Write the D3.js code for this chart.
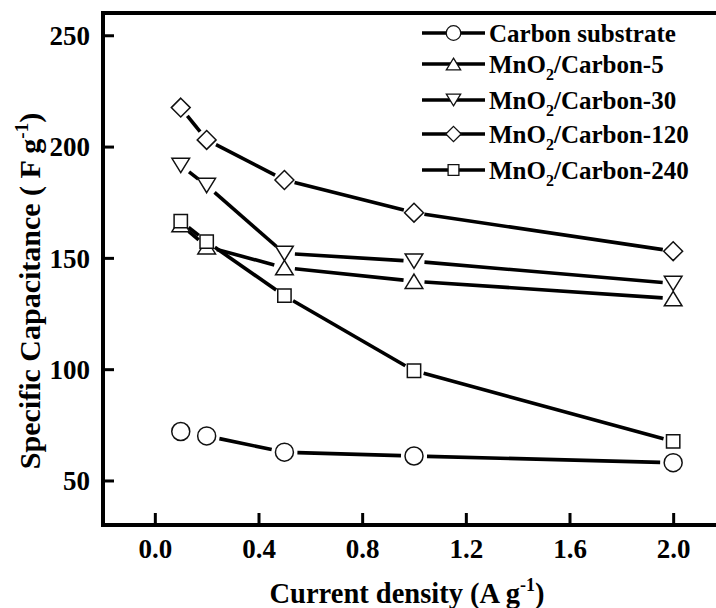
<!DOCTYPE html>
<html>
<head>
<meta charset="utf-8">
<script src="https://cdn.jsdelivr.net/npm/d3@7"></script>
<style>
  html, body { margin: 0; padding: 0; background: #fff; }
  svg { display: block; }
  text { font-family: "Liberation Serif", "Times New Roman", serif; font-weight: bold; fill: #000; }
</style>
</head>
<body>
<svg id="chart" width="716" height="608"></svg>
<script>
// Current density (A g^-1)
const currentDensity = [0.1, 0.2, 0.5, 1.0, 2.0];

// Specific capacitance (F g^-1) for each electrode
const carbonSubstrate = [72, 70, 62.7, 61, 58];
const mnoCarbon5      = [165, 155, 145.6, 139.5, 131.7];
const mnoCarbon30     = [191.5, 182.5, 152, 148.5, 138.5];
const mnoCarbon120    = [217.5, 203, 185, 170.3, 153];
const mnoCarbon240    = [166.5, 157.3, 133, 99.3, 67.6];

const seriesNames = ["Carbon substrate", "MnO2/Carbon-5", "MnO2/Carbon-30", "MnO2/Carbon-120", "MnO2/Carbon-240"];
const seriesSymbols = ["circle", "triUp", "triDown", "diamond", "square"];

const xTicks = [0.0, 0.4, 0.8, 1.2, 1.6, 2.0];
const yTicks = [50, 100, 150, 200, 250];

const series = [carbonSubstrate, mnoCarbon5, mnoCarbon30, mnoCarbon120, mnoCarbon240].map((vals, i) => ({
  name: seriesNames[i],
  symbol: seriesSymbols[i],
  points: vals.map((v, j) => ({ x: currentDensity[j], y: v }))
}));

const svg = d3.select("#chart");
const frame = { left: 103, top: 13, bottom: 525, right: 725 };

const x = d3.scaleLinear().domain([-0.2, 2.2]).range([frame.left, frame.right]);
const y = d3.scaleLinear().domain([30, 260]).range([frame.bottom, frame.top]);

// marker path generators, centred on 0,0
function symbolPath(kind, s) {
  switch (kind) {
    case "circle": {
      const r = s;
      return `M${-r},0A${r},${r} 0 1,0 ${r},0A${r},${r} 0 1,0 ${-r},0Z`;
    }
    case "triUp": {
      const w = s * 0.98, h = s * 0.8;
      return `M0,${-h}L${w},${h}L${-w},${h}Z`;
    }
    case "triDown": {
      const w = s * 0.98, h = s * 0.8;
      return `M0,${h}L${w},${-h}L${-w},${-h}Z`;
    }
    case "diamond": {
      const r = s * 1.05;
      return `M0,${-r}L${r},0L0,${r}L${-r},0Z`;
    }
    case "square": {
      const h = s * 0.74;
      return `M${-h},${-h}H${h}V${h}H${-h}Z`;
    }
  }
}

const gapFor = { circle: 13, triUp: 10.5, triDown: 10.5, diamond: 10.5, square: 10 };

// connecting lines, trimmed short of each marker
const lineLayer = svg.append("g");
series.forEach(s => {
  const g = gapFor[s.symbol];
  for (let i = 0; i < s.points.length - 1; i++) {
    const x1 = x(s.points[i].x), y1 = y(s.points[i].y);
    const x2 = x(s.points[i + 1].x), y2 = y(s.points[i + 1].y);
    const len = Math.hypot(x2 - x1, y2 - y1);
    if (len <= 2 * g + 1) continue;
    const ux = (x2 - x1) / len, uy = (y2 - y1) / len;
    lineLayer.append("line")
      .attr("x1", x1 + ux * g).attr("y1", y1 + uy * g)
      .attr("x2", x2 - ux * g).attr("y2", y2 - uy * g)
      .attr("stroke", "#000").attr("stroke-width", 3.6);
  }
});

// markers
const markerLayer = svg.append("g");
series.forEach(s => {
  markerLayer.selectAll(null).data(s.points).enter().append("path")
    .attr("transform", d => `translate(${x(d.x)},${y(d.y)})`)
    .attr("d", symbolPath(s.symbol, 9))
    .attr("fill", "#fff").attr("stroke", "#111").attr("stroke-width", 1.5);
});

// axes frame
const axisLayer = svg.append("g");
axisLayer.append("path")
  .attr("d", `M${frame.right},${frame.top}H${frame.left}V${frame.bottom}H${frame.right}`)
  .attr("fill", "none").attr("stroke", "#000").attr("stroke-width", 4);

const xAxis = d3.axisBottom(x).tickValues(xTicks).tickFormat(d3.format(".1f")).tickSizeInner(-12).tickSizeOuter(0).tickPadding(14);
const gx = axisLayer.append("g").attr("transform", `translate(0,${frame.bottom})`).call(xAxis);
gx.select(".domain").remove();
gx.selectAll(".tick line").attr("stroke", "#000").attr("stroke-width", 3);
gx.selectAll(".tick text").attr("font-size", 27).attr("font-family", "Liberation Serif").attr("font-weight", "bold").attr("fill", "#000").attr("dy", "0.71em");

const yAxis = d3.axisLeft(y).tickValues(yTicks).tickFormat(d3.format("d")).tickSizeInner(-11).tickSizeOuter(0).tickPadding(13);
const gy = axisLayer.append("g").attr("transform", `translate(${frame.left},0)`).call(yAxis);
gy.select(".domain").remove();
gy.selectAll(".tick line").attr("stroke", "#000").attr("stroke-width", 3);
gy.selectAll(".tick text").attr("font-size", 27).attr("font-family", "Liberation Serif").attr("font-weight", "bold").attr("fill", "#000").attr("dy", "0.34em");

// axis titles
const xt = svg.append("text").attr("x", 407).attr("y", 603).attr("text-anchor", "middle").attr("font-size", 28.5);
xt.append("tspan").text("Current density (A g");
xt.append("tspan").attr("font-size", 18).attr("dy", -12).text("-1");
xt.append("tspan").attr("dy", 12).text(")");

const yt = svg.append("text").attr("transform", "translate(39.5,291) rotate(-90)").attr("text-anchor", "middle").attr("font-size", 30);
yt.append("tspan").text("Specific Capacitance ( F g");
yt.append("tspan").attr("font-size", 19).attr("dy", -12).text("-1");
yt.append("tspan").attr("dy", 12).text(")");

// legend
const legendRows = [33, 64, 100, 134, 170];
const legend = svg.append("g");
series.forEach((s, i) => {
  const ly = legendRows[i];
  legend.append("line").attr("x1", 422).attr("x2", 485).attr("y1", ly).attr("y2", ly)
    .attr("stroke", "#000").attr("stroke-width", 3.6);
  legend.append("path").attr("transform", `translate(453.5,${ly})`)
    .attr("d", symbolPath(s.symbol, 7.3))
    .attr("fill", "#fff").attr("stroke", "#111").attr("stroke-width", 1.3);
  const t = legend.append("text").attr("x", 489).attr("y", ly + 8.5).attr("font-size", 25);
  const m = s.name.match(/^MnO2(.*)$/);
  if (m) {
    t.append("tspan").text("MnO");
    t.append("tspan").attr("font-size", 16).attr("dy", 7).text("2");
    t.append("tspan").attr("dy", -7).text(m[1]);
  } else {
    t.text(s.name);
  }
});
</script>
</body>
</html>
